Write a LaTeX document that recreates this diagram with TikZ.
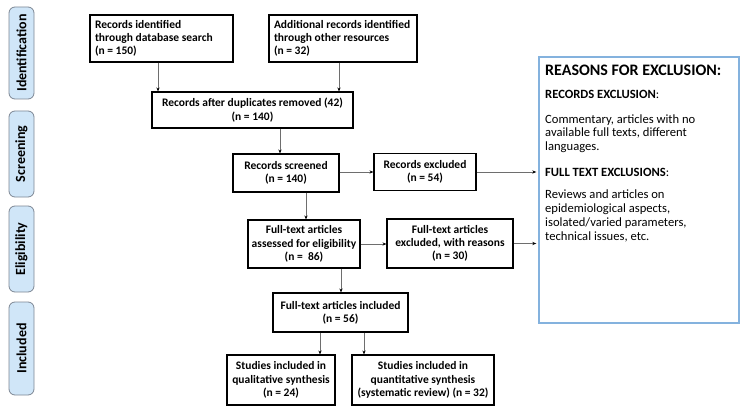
\documentclass[tikz,border=0pt]{standalone}
\usepackage{fontspec}
\setmainfont{Carlito}
\usetikzlibrary{arrows.meta}
\definecolor{sidefill}{RGB}{208,230,248}
\definecolor{sideline}{RGB}{125,135,148}
\definecolor{reasonline}{RGB}{132,178,222}
\definecolor{connline}{RGB}{110,110,110}
\begin{document}
\begin{tikzpicture}[x=1pt,y=-1pt,
  box/.style={draw=black, line width=1.1pt, font=\bfseries\fontsize{11.5}{13.3}\selectfont,
    align=center, inner sep=0pt},
  sidebox/.style={draw=sideline, fill=sidefill, rounded corners=6pt, line width=0.8pt,
    rotate=90, font=\bfseries\fontsize{14}{16}\selectfont, inner sep=0pt},
  conn/.style={draw=connline, line width=0.7pt, -{Stealth[length=4pt,width=3.2pt,black]}},
  rtext/.style={anchor=base west, inner sep=0pt, font=\fontsize{12.6}{13.6}\selectfont}]
\useasboundingbox (0,0) rectangle (750,417);
\fill[white] (0,0) rectangle (750,417);

% side labels
\node[sidebox, minimum width=92pt, minimum height=25pt] (sid) at (21.5,53) {Identification};
\node[sidebox, minimum width=86pt, minimum height=25pt] (sscr) at (21.5,154) {Screening};
\node[sidebox, minimum width=86pt, minimum height=25pt] (selg) at (21.5,249) {Eligibility};
\node[sidebox, minimum width=93pt, minimum height=25pt] (sinc) at (21.5,348.5) {Included};

% flow boxes
\node[box, minimum width=143pt, minimum height=47pt] (b1) at (161.5,38.5)
  {\begin{minipage}{133pt}\raggedright Records identified\\ through database search\\ (n = 150)\end{minipage}};
\node[box, minimum width=148pt, minimum height=47pt] (b2) at (343,38.5)
  {\begin{minipage}{138pt}\raggedright Additional records identified\\ through other resources\\ (n = 32)\end{minipage}};
\node[box, minimum width=201pt, minimum height=36pt] (b3) at (252.5,110)
  {Records after duplicates removed (42)\\ (n = 140)};
\node[box, minimum width=106pt, minimum height=38pt] (b4) at (286,173)
  {Records screened\\ (n = 140)};
\node[box, minimum width=102pt, minimum height=37pt] (excl) at (425,172)
  {Records excluded\\ (n = 54)};
\node[box, minimum width=112pt, minimum height=48pt] (asse) at (304,244)
  {Full-text articles\\ assessed for eligibility\\ (n =~ 86)};
\node[box, minimum width=126pt, minimum height=49pt] (ftex) at (450,243.5)
  {Full-text articles\\ excluded, with reasons\\ (n = 30)};
\node[box, minimum width=135pt, minimum height=39pt] (ftin) at (340.5,312.5)
  {Full-text articles included\\ (n = 56)};
\node[box, minimum width=108pt, minimum height=50pt] (qual) at (281,380)
  {Studies included in\\ qualitative synthesis\\ (n = 24)};
\node[box, minimum width=142pt, minimum height=50pt] (quan) at (423,380)
  {Studies included in\\ quantitative synthesis\\ (systematic review) (n = 32)};

% reasons box
\node[draw=reasonline, line width=1.4pt, minimum width=200pt, minimum height=266pt, inner sep=0pt]
  (reas) at (639,190) {};
\node[rtext, font=\bfseries\fontsize{16}{18}\selectfont] (r1) at (545,75.7) {REASONS FOR EXCLUSION:};
\node[rtext] (r2) at (545,98.3) {\textbf{RECORDS EXCLUSION}:};
\node[rtext] (r3) at (545,123.3) {Commentary, articles with no};
\node[rtext] (r4) at (545,137) {available full texts, different};
\node[rtext] (r5) at (545,150.6) {languages.};
\node[rtext] (r6) at (545,176.5) {\textbf{FULL TEXT EXCLUSIONS}:};
\node[rtext] (r7) at (545,199) {Reviews and articles on};
\node[rtext] (r8) at (545,212.7) {epidemiological aspects,};
\node[rtext] (r9) at (545,226.4) {isolated/varied parameters,};
\node[rtext] (r10) at (545,240.1) {technical issues, etc.};

% connectors
\draw[conn] ([xshift=-3.5pt]b1.south) -- ([xshift=-3.5pt]b1.south |- b3.north);
\draw[conn] ([xshift=-4pt]b2.south) -- ([xshift=-4pt]b2.south |- b3.north);
\draw[conn] ([xshift=27.5pt]b3.south) -- ([xshift=27.5pt]b3.south |- b4.north);
\draw[conn] (b4.east |- excl.west) -- (excl.west);
\draw[conn, shorten >=2pt] (excl.east) -- (excl.east -| reas.west);
\draw[conn] ([xshift=20pt]b4.south) -- ([xshift=20pt]b4.south |- asse.north);
\draw[conn] (asse.east) -- (asse.east -| ftex.west);
\draw[conn, shorten >=2pt] (ftex.east) -- (ftex.east -| reas.west);
\draw[conn] ([xshift=37pt]asse.south) -- ([xshift=37pt]asse.south |- ftin.north);
\draw[conn] ([xshift=-20.5pt]ftin.south) -- ([xshift=-20.5pt]ftin.south |- qual.north);
\draw[conn] ([xshift=23.5pt]ftin.south) -- ([xshift=23.5pt]ftin.south |- quan.north);
\end{tikzpicture}
\end{document}
